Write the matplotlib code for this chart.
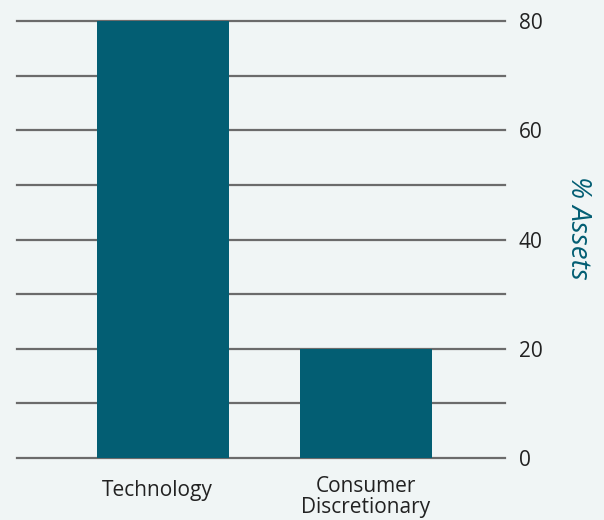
import matplotlib
matplotlib.use("Agg")
import matplotlib.pyplot as plt
import matplotlib.transforms as mtrans

# data
sectors = ["Technology", "Consumer\nDiscretionary"]
assets = [80, 20]
grid_levels = [0, 10, 20, 30, 40, 50, 60, 70, 80]
tick_values = [0, 20, 40, 60, 80]

bg = "#f0f5f5"
teal = "#035e73"
grey = "#6b6b6b"

plt.rcParams["font.family"] = ["Open Sans", "DejaVu Sans"]

fig = plt.figure(figsize=(6.04, 5.20), dpi=100, facecolor=bg)
ax = fig.add_axes([17 / 604, 62 / 520, 488 / 604, 437 / 520])
ax.set_facecolor(bg)

# horizontal rules behind the bars
for g in grid_levels:
    ax.axhline(g, color=grey, lw=1.6, zorder=1, clip_on=False)

x = range(len(sectors))
ax.bar(x, assets, width=0.65, color=teal, zorder=2)

ax.set_xlim(-0.719, 1.685)
ax.set_ylim(0, 80)

ax.set_xticks(list(x))
ax.set_xticklabels(sectors, fontsize=15, color="#222222", linespacing=1.0)
ax.yaxis.tick_right()
ax.set_yticks(tick_values)
ax.set_yticklabels([str(v) for v in tick_values], fontsize=15, color="#222222")
ax.tick_params(length=0)
ax.tick_params(axis="x", pad=13)
ax.tick_params(axis="y", pad=10)

# single-line label sits a bit lower and further left in the original
lbls = ax.get_xticklabels()
lbls[0].set_transform(lbls[0].get_transform() +
                      mtrans.ScaledTranslation(-6 / 100, -4 / 100, fig.dpi_scale_trans))

for s in ax.spines.values():
    s.set_visible(False)

ax.yaxis.set_label_position("right")
ax.set_ylabel("% Assets", fontsize=20, color=teal, style="italic",
              rotation=270, va="center", ha="center")
ax.yaxis.set_label_coords(1.150, 0.526)

fig.savefig("out.png", dpi=100, facecolor=bg)
